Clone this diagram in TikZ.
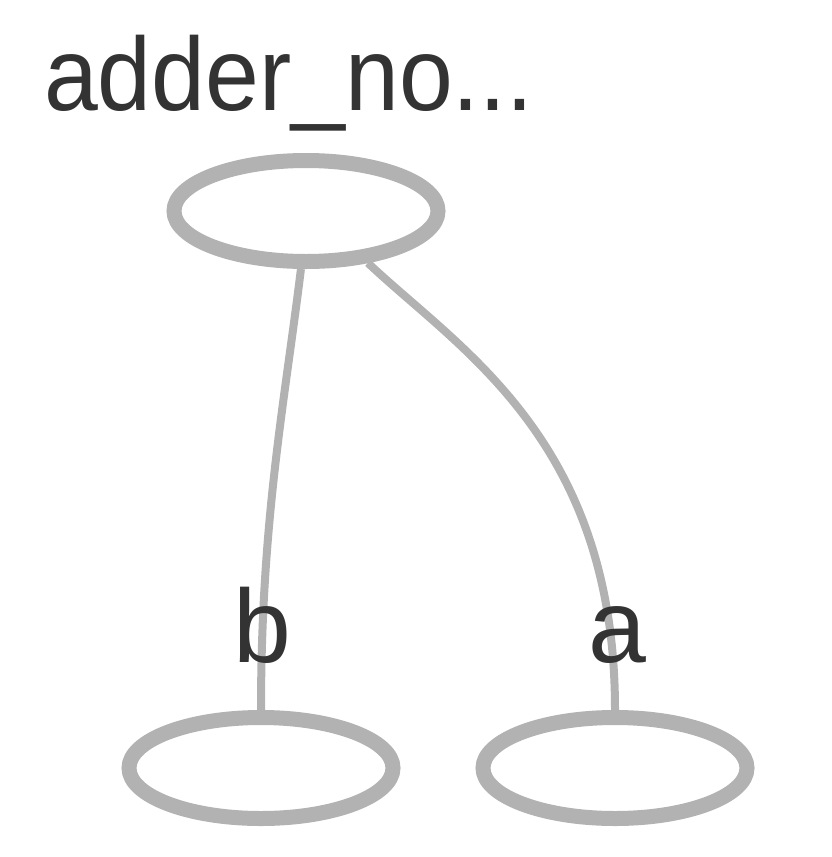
\documentclass[tikz,border=0pt]{standalone}
\usepackage{fontspec}
\setmainfont{Liberation Sans}
\usetikzlibrary{shapes.geometric}
\definecolor{edgegray}{HTML}{B2B2B2}
\definecolor{txtgray}{HTML}{333333}
\tikzset{
  vert/.style={ellipse, draw=edgegray, line width=15pt, minimum width=264pt, minimum height=101pt, inner sep=0pt},
  link/.style={draw=edgegray, line width=8pt},
  lbl/.style={text=txtgray, inner sep=0pt, font=\fontsize{104}{120}\selectfont}
}
\begin{document}
\begin{tikzpicture}[x=1pt,y=-1pt]
\useasboundingbox (0,0) rectangle (831,857);
\node[vert] (top) at (306,211) {};
\node[vert] (bl) at (261,768) {};
\node[vert] (br) at (615,768) {};
\draw[link] (top.-95) .. controls (285,400) and (261,520) .. (bl.north);
\draw[link] (top.-40) .. controls (460,350) and (615,440) .. (br.north);
\node[lbl, anchor=base west] (title) at (44,110) {\scalebox{0.93}[1]{adder\_no...}};
\node[lbl, anchor=base] (lb) at (262,662) {b};
\node[lbl, anchor=base] (la) at (617,662) {a};
\end{tikzpicture}
\end{document}
